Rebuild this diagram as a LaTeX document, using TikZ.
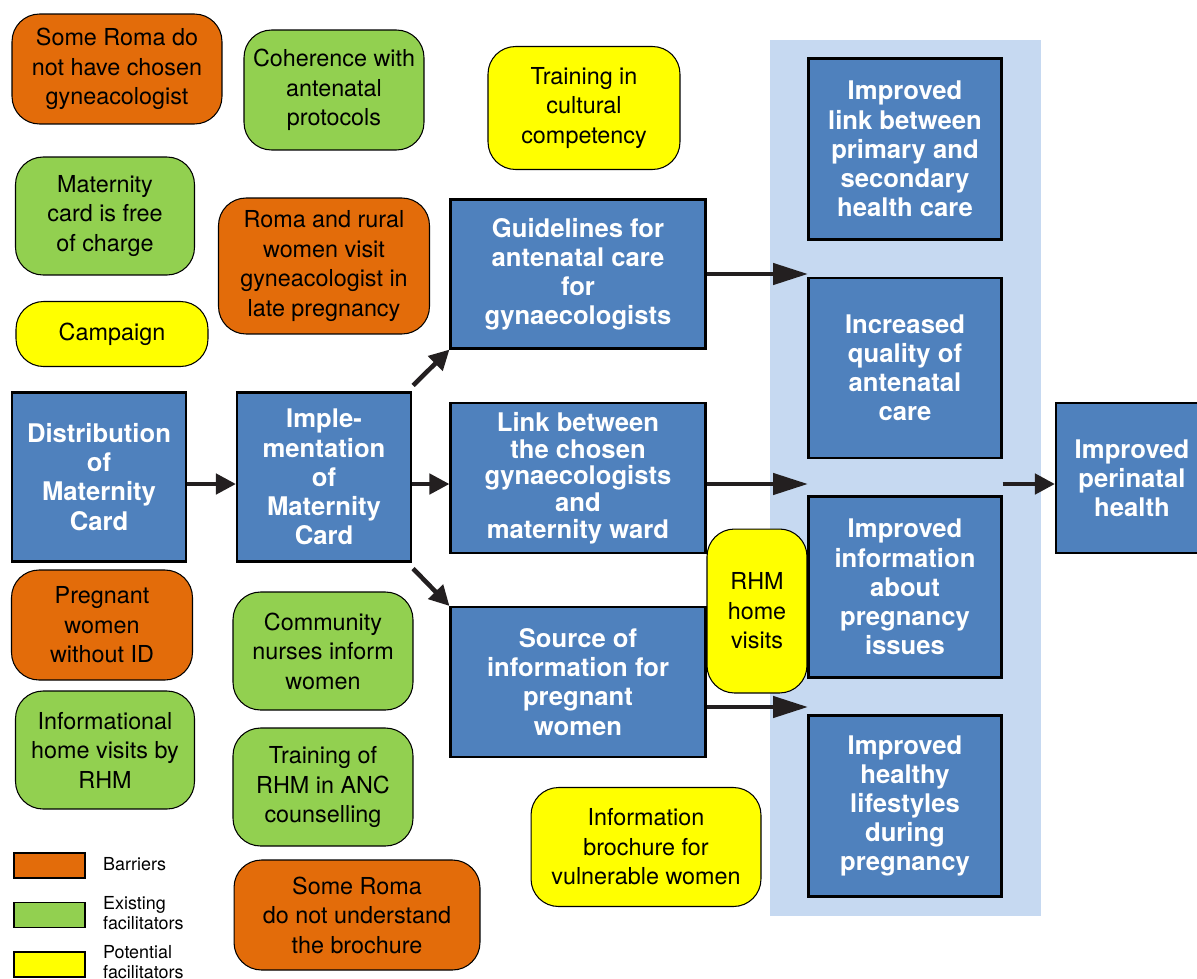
\documentclass[tikz,border=0pt]{standalone}
\usepackage{fontspec}
\setmainfont{TeX Gyre Heros}
\usetikzlibrary{arrows.meta}

\definecolor{outblue}{HTML}{4F81BD}
\definecolor{barrier}{HTML}{E36C0A}
\definecolor{existing}{HTML}{92D050}
\definecolor{potential}{HTML}{FFFF00}
\definecolor{outcomebg}{HTML}{C6D9F1}
\definecolor{arrowcol}{HTML}{231F20}

\begin{document}
\begin{tikzpicture}[x=0.02cm,y=-0.02cm,
    flow/.style={-{Triangle[length=0.4cm,width=0.4cm]},
                 line width=2.6pt,
                 draw=arrowcol},
    longflow/.style={-{Triangle[length=0.7cm,width=0.42cm]},
                 line width=2.6pt,
                 draw=arrowcol},
    bluebox/.style={rectangle,
                 draw,
                 line width=1.2pt,
                 fill=outblue,
                 text=white,
                 align=center,
                 font=\fontsize{14.6}{16.6}\selectfont\bfseries},
    factor/.style={rectangle,
                 rounded corners=0.55cm,
                 draw,
                 line width=0.6pt,
                 align=center,
                 font=\fontsize{13.3}{16.8}\selectfont},
    barrierbox/.style={factor, fill=barrier},
    existbox/.style={factor, fill=existing},
    potbox/.style={factor, fill=potential},
    legendbox/.style={rectangle,
                 draw,
                 line width=0.8pt,
                 minimum width=1.42cm,
                 minimum height=0.5cm},
    legendtext/.style={anchor=west,
                 align=left,
                 font=\fontsize{10.2}{11.4}\selectfont}
    ]

    \useasboundingbox (0,0) rectangle (1197,978);

    % outcome column
    \node[rectangle,
          fill = outcomebg,
          minimum width = 5.42cm,
          minimum height = 17.52cm
          ] (outcomes) at (905.5,478) {};

    % barriers and facilitators
    \node[barrierbox, minimum width = 4.2cm, minimum height = 2.2cm]
        (nochosen) at (117,69) {Some Roma do\\not have chosen\\gyneacologist};
    \node[existbox, minimum width = 3.6cm, minimum height = 2.4cm]
        (coherence) at (334,90) {Coherence with\\antenatal\\protocols};
    \node[potbox, minimum width = 3.84cm, minimum height = 2.46cm]
        (culture) at (584,108) {Training in\\cultural\\competency};
    \node[existbox, minimum width = 3.58cm, minimum height = 2.36cm]
        (free) at (105,216) {Maternity\\card is free\\of charge};
    \node[barrierbox, minimum width = 4.22cm, minimum height = 2.72cm]
        (late) at (324,266) {Roma and rural\\women visit\\gyneacologist in\\late pregnancy};
    \node[potbox, minimum width = 3.84cm, minimum height = 1.3cm]
        (campaign) at (112,334) {Campaign};
    \node[barrierbox, minimum width = 3.62cm, minimum height = 2.2cm]
        (noid) at (102,625) {Pregnant\\women\\without ID};
    \node[existbox, minimum width = 3.6cm, minimum height = 2.36cm]
        (nurses) at (323,651) {Community\\nurses inform\\women};
    \node[existbox, minimum width = 3.58cm, minimum height = 2.36cm]
        (homeinfo) at (105,750) {Informational\\home visits by\\RHM};
    \node[existbox, minimum width = 3.6cm, minimum height = 2.36cm]
        (anc) at (323,787) {Training of\\RHM in ANC\\counselling};
    \node[potbox, minimum width = 4.6cm, minimum height = 2.38cm]
        (brochure) at (646,847) {Information\\brochure for\\vulnerable women};
    \node[barrierbox, minimum width = 4.92cm, minimum height = 2.2cm]
        (nounderstand) at (357,915) {Some Roma\\do not understand\\the brochure};
    \node[potbox, minimum width = 2cm, minimum height = 3.28cm]
        (rhmvisits) at (757,611) {RHM\\home\\visits};

    % intervention chain
    \node[bluebox, minimum width = 3.48cm, minimum height = 3.38cm]
        (dist) at (99,477) {Distribution\\of\\Maternity\\Card};
    \node[bluebox, minimum width = 3.48cm, minimum height = 3.38cm]
        (impl) at (324,477) {Imple-\\mentation\\of\\Maternity\\Card};
    \node[bluebox, minimum width = 5.1cm, minimum height = 2.98cm]
        (guide) at (578,274) {Guidelines for\\antenatal care\\for\\gynaecologists};
    \node[bluebox, minimum width = 5.1cm, minimum height = 3cm,
          font=\fontsize{14.6}{15.2}\selectfont\bfseries]
        (link) at (578,478) {Link between\\the chosen\\gynaecologists\\and\\maternity ward};
    \node[bluebox, minimum width = 5.1cm, minimum height = 3cm]
        (src) at (578,682) {Source of\\information for\\pregnant\\women};

    \node[bluebox, minimum width = 3.86cm, minimum height = 3.62cm]
        (out1) at (905,149) {Improved\\link between\\primary and\\secondary\\health care};
    \node[bluebox, minimum width = 3.86cm, minimum height = 3.6cm]
        (out2) at (905,368) {Increased\\quality of\\antenatal\\care};
    \node[bluebox, minimum width = 3.86cm, minimum height = 3.62cm]
        (out3) at (905,587) {Improved\\information\\about\\pregnancy\\issues};
    \node[bluebox, minimum width = 3.86cm, minimum height = 3.62cm]
        (out4) at (905,806) {Improved\\healthy\\lifestyles\\during\\pregnancy};
    \node[bluebox, minimum width = 3.04cm, minimum height = 3cm]
        (peri) at (1132,478) {Improved\\perinatal\\health};

    \coordinate (gapA) at (808,274);
    \coordinate (gapB) at (808,484);
    \coordinate (gapC) at (808,707);

    % arrows
    \draw[flow] (dist.east |- gapB) -- (impl.west |- gapB);
    \draw[flow] (impl.east |- gapB) -- (link.west |- gapB);
    \draw[flow] ([shift={(1,-6)}]impl.north east) -- (guide.south west);
    \draw[flow] ([shift={(1,6)}]impl.south east) -- (src.north west);
    \draw[longflow] (guide.east) -- (gapA);
    \draw[longflow] (link.east |- gapB) -- (gapB);
    \draw[longflow] (src.east |- gapC) -- (gapC);
    \draw[flow] (out2.east |- gapB) -- (peri.west |- gapB);

    % legend
    \node[legendbox, fill = barrier] (legbar) at (49.5,865.5) {};
    \node[legendtext] (legbartext) at (97,864) {Barriers};
    \node[legendbox, fill = existing] (legexist) at (49.5,915) {};
    \node[legendtext] (legexisttext) at (97,913) {Existing\\facilitators};
    \node[legendbox, fill = potential] (legpot) at (49.5,964.5) {};
    \node[legendtext] (legpottext) at (97,962) {Potential\\facilitators};

\end{tikzpicture}
\end{document}
